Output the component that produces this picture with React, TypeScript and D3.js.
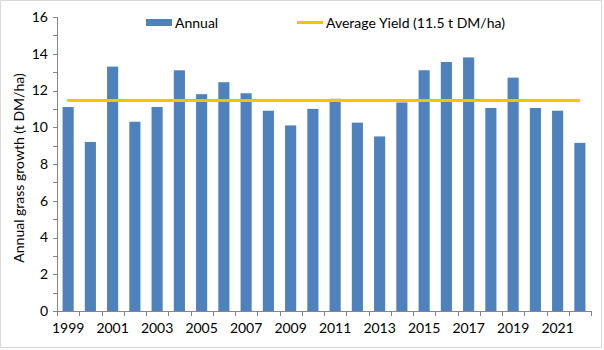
import React, { useEffect, useRef } from 'react';
import * as d3 from 'd3';

const years = [
  '1999', '2000', '2001', '2002', '2003', '2004', '2005', '2006', '2007', '2008', '2009', '2010',
  '2011', '2012', '2013', '2014', '2015', '2016', '2017', '2018', '2019', '2020', '2021', '2022',
];
const annual = [
  11.1, 9.2, 13.3, 10.3, 11.1, 13.1, 11.8, 12.45, 11.85, 10.9, 10.1, 11.0,
  11.55, 10.25, 9.5, 11.35, 13.1, 13.55, 13.8, 11.05, 12.7, 11.05, 10.9, 9.15,
];
const averageYield = 11.45;
const yTicks = [0, 2, 4, 6, 8, 10, 12, 14, 16];

const App = () => {
  const svgRef = useRef<SVGSVGElement>(null);

  useEffect(() => {
    document.body.style.margin = '0';
    const width = 604;
    const height = 350;
    const margin = { top: 17, right: 13, bottom: 39, left: 57 };
    const innerWidth = width - margin.left - margin.right;
    const innerHeight = height - margin.top - margin.bottom;
    const font = 'Lato, "Open Sans", sans-serif';
    const fs = 14;

    const svg = d3.select(svgRef.current);
    svg.selectAll('*').remove();
    svg.attr('width', width).attr('height', height);

    svg.append('rect')
      .attr('x', 0.5).attr('y', 0.5)
      .attr('width', 601).attr('height', 347)
      .attr('fill', '#fff')
      .attr('stroke', '#d9d9d9');

    const x = d3.scaleBand().domain(years).range([0, innerWidth]).paddingInner(0.5).paddingOuter(0.25);
    const y = d3.scaleLinear().domain([0, 16]).range([innerHeight, 0]);

    const g = svg.append('g').attr('transform', `translate(${margin.left},${margin.top})`);

    g.selectAll('rect.bar')
      .data(annual)
      .enter()
      .append('rect')
      .attr('class', 'bar')
      .attr('x', (d, i) => x(years[i])!)
      .attr('y', d => y(d))
      .attr('width', x.bandwidth())
      .attr('height', d => innerHeight - y(d))
      .attr('fill', '#4f81bd');

    // average line from first to last band centre
    const half = x.bandwidth() / 2;
    g.append('line')
      .attr('x1', x(years[0])! + half - 1)
      .attr('x2', x(years[years.length - 1])! + half)
      .attr('y1', y(averageYield))
      .attr('y2', y(averageYield))
      .attr('stroke', '#ffc000')
      .attr('stroke-width', 3);

    // y axis
    const axisColor = '#868686';
    const yAxis = g.append('g');
    yAxis.append('line')
      .attr('x1', 0.5).attr('x2', 0.5)
      .attr('y1', 0).attr('y2', innerHeight)
      .attr('stroke', axisColor);
    yAxis.selectAll('line.minor')
      .data(d3.range(0, 17, 1))
      .enter()
      .append('line')
      .attr('x1', -4).attr('x2', 0.5)
      .attr('y1', d => Math.round(y(d)) + 0.5)
      .attr('y2', d => Math.round(y(d)) + 0.5)
      .attr('stroke', axisColor);
    yAxis.selectAll('text')
      .data(yTicks)
      .enter()
      .append('text')
      .attr('x', -9)
      .attr('y', d => y(d))
      .attr('dy', '0.35em')
      .attr('text-anchor', 'end')
      .attr('font-family', font)
      .attr('font-size', fs)
      .attr('fill', '#000')
      .text(d => d);

    // x axis
    const step = x.step();
    const x0 = x(years[0])! - (step - x.bandwidth()) / 2;
    const xAxis = g.append('g').attr('transform', `translate(0,${innerHeight})`);
    xAxis.append('line')
      .attr('x1', 0).attr('x2', innerWidth)
      .attr('y1', 0.5).attr('y2', 0.5)
      .attr('stroke', axisColor);
    xAxis.selectAll('line.tick')
      .data(d3.range(0, years.length + 1))
      .enter()
      .append('line')
      .attr('x1', i => Math.round(x0 + i * step) + 0.5)
      .attr('x2', i => Math.round(x0 + i * step) + 0.5)
      .attr('y1', 0).attr('y2', 5)
      .attr('stroke', axisColor);
    xAxis.selectAll('text')
      .data(years.filter((d, i) => i % 2 === 0))
      .enter()
      .append('text')
      .attr('x', d => x(d)! + half)
      .attr('y', 22)
      .attr('text-anchor', 'middle')
      .attr('font-family', font)
      .attr('font-size', fs)
      .attr('fill', '#000')
      .text(d => d);

    // y title
    svg.append('text')
      .attr('transform', `translate(24,${margin.top + innerHeight / 2 + 4}) rotate(-90)`)
      .attr('text-anchor', 'middle')
      .attr('font-family', font)
      .attr('font-size', fs)
      .attr('fill', '#000')
      .text('Annual grass growth (t DM/ha)');

    // legend
    const legend = svg.append('g');
    legend.append('rect')
      .attr('x', 146).attr('y', 19).attr('width', 26).attr('height', 7)
      .attr('fill', '#4f81bd');
    legend.append('text')
      .attr('x', 175).attr('y', 23).attr('dy', '0.35em')
      .attr('font-family', font).attr('font-size', fs).attr('fill', '#000')
      .text('Annual');
    legend.append('line')
      .attr('x1', 297).attr('x2', 323).attr('y1', 22.5).attr('y2', 22.5)
      .attr('stroke', '#ffc000').attr('stroke-width', 3);
    legend.append('text')
      .attr('x', 326).attr('y', 23).attr('dy', '0.35em')
      .attr('font-family', font).attr('font-size', fs).attr('fill', '#000')
      .text('Average Yield (11.5 t DM/ha)');
  }, []);

  return <svg ref={svgRef} style={{ display: 'block' }} />;
};

export default App;
